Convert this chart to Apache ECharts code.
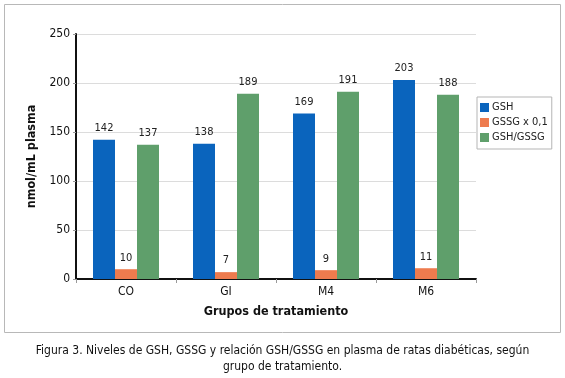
<!DOCTYPE html>
<html>
<head>
<meta charset="utf-8">
<script src="https://cdn.jsdelivr.net/npm/echarts@6/dist/echarts.min.js"></script>
<style>
  html, body { margin: 0; padding: 0; background: #fff; }
  #chart { width: 565px; height: 378px; }
</style>
</head>
<body>
<div id="chart"></div>
<script>
const categories = ['CO', 'GI', 'M4', 'M6']
const gshValues = [142, 138, 169, 203]
const gssgValues = [10, 7, 9, 11]
const ratioValues = [137, 189, 191, 188]
const seriesNames = ['GSH', 'GSSG x 0,1', 'GSH/GSSG']
const captionLines = [
  'Figura 3. Niveles de GSH, GSSG y relación GSH/GSSG en plasma de ratas diabéticas, según',
  'grupo de tratamiento.'
]

const font = "'Liberation Sans Narrow', 'DejaVu Sans Condensed', 'Roboto', sans-serif"
const colors = ['#0a64bd', '#ee7b4e', '#5f9f6b']

const chart = echarts.init(document.getElementById('chart'), null, { renderer: 'canvas' })

const barLabel = {
  show: true,
  position: 'top',
  distance: 6,
  color: '#222',
  fontFamily: font,
  fontSize: 11
}

const makeSeries = (name, data, color) => ({
  name,
  type: 'bar',
  data,
  barGap: '0%',
  barCategoryGap: '34%',
  itemStyle: { color },
  label: barLabel
})

chart.setOption({
  animation: false,
  textStyle: { fontFamily: font },
  grid: { left: 76, right: 89, top: 34, bottom: 99 },
  legend: {
    orient: 'vertical',
    left: 477,
    top: 97,
    itemWidth: 9,
    itemHeight: 9,
    itemGap: 4,
    padding: [5, 4, 6, 3],
    borderColor: '#b5b5b5',
    borderWidth: 1,
    icon: 'rect',
    textStyle: { fontFamily: font, fontSize: 11, color: '#222', padding: [0, 0, 0, -2] },
    data: seriesNames
  },
  xAxis: {
    type: 'category',
    data: categories,
    name: 'Grupos de tratamiento',
    nameLocation: 'middle',
    nameGap: 26,
    nameTextStyle: { fontFamily: font, fontSize: 12.5, color: '#111', fontWeight: 'bold' },
    axisLine: { lineStyle: { color: '#111', width: 2 } },
    axisTick: { show: true, length: 4, lineStyle: { color: '#999' } },
    axisLabel: { fontFamily: font, fontSize: 12, color: '#111', margin: 7 }
  },
  yAxis: {
    type: 'value',
    min: 0,
    max: 250,
    interval: 50,
    name: 'nmol/mL plasma',
    nameLocation: 'middle',
    nameGap: 38,
    nameRotate: 90,
    nameTextStyle: { fontFamily: font, fontSize: 12.5, color: '#111', fontWeight: 'bold' },
    axisLine: { show: true, lineStyle: { color: '#111', width: 2 } },
    axisTick: { show: true, length: 3, lineStyle: { color: '#999' } },
    axisLabel: { fontFamily: font, fontSize: 12, color: '#111', margin: 6 },
    splitLine: { lineStyle: { color: '#dcdcdc', width: 1 } }
  },
  series: [
    makeSeries(seriesNames[0], gshValues, colors[0]),
    makeSeries(seriesNames[1], gssgValues, colors[1]),
    makeSeries(seriesNames[2], ratioValues, colors[2])
  ],
  graphic: [
    {
      type: 'rect',
      shape: { x: 4.5, y: 4.5, width: 556, height: 328 },
      style: { fill: 'none', stroke: '#b8b8b8', lineWidth: 1 },
      silent: true,
      z: -1
    },
    {
      type: 'text',
      x: 282.5,
      y: 343,
      style: {
        text: captionLines.join('\n'),
        fontFamily: font,
        fontSize: 12,
        lineHeight: 16,
        fill: '#111',
        align: 'center',
        verticalAlign: 'top'
      }
    }
  ]
})
</script>
</body>
</html>
